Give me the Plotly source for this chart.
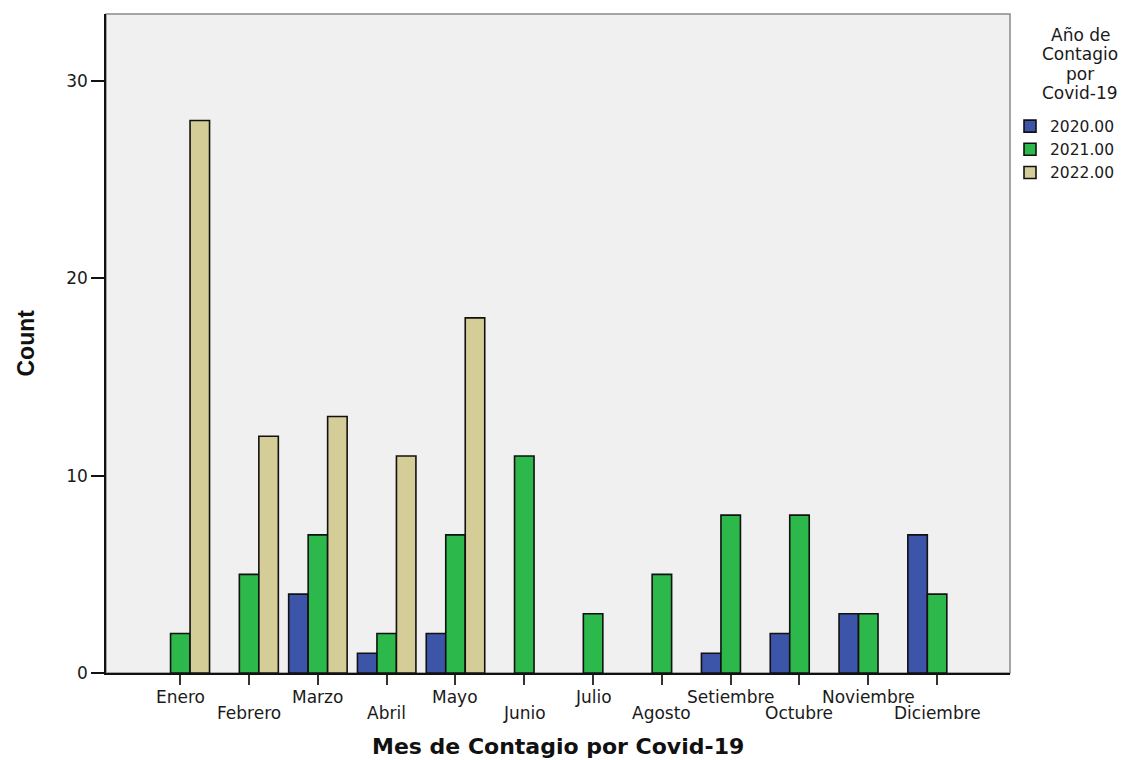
import plotly.graph_objects as go

months = ["Enero", "Febrero", "Marzo", "Abril", "Mayo", "Junio", "Julio",
          "Agosto", "Setiembre", "Octubre", "Noviembre", "Diciembre"]
series_names = ["2020.00", "2021.00", "2022.00"]
# None = no bar drawn for that month/year
counts_2020 = [None, None, 4, 1, 2, None, None, None, 1, 2, 3, 7]
counts_2021 = [2, 5, 7, 2, 7, 11, 3, 5, 8, 8, 3, 4]
counts_2022 = [28, 12, 13, 11, 18, None, None, None, None, None, None, None]
colors = ["#3C55A9", "#2DB84B", "#D4CD97"]
y_ticks = [0, 10, 20, 30]
legend_title_lines = ["Año de", "Contagio", "por", "Covid-19"]

FONT = "DejaVu Sans, Verdana, Arial, sans-serif"

fig = go.Figure()
for name, vals, col in zip(series_names, [counts_2020, counts_2021, counts_2022], colors):
    fig.add_trace(go.Bar(
        x=months, y=vals, name=name,
        marker=dict(color=col, line=dict(color="#111111", width=1.6)),
    ))

fig.update_layout(
    width=1140, height=760,
    margin=dict(l=106, r=130, t=14, b=87),
    paper_bgcolor="white", plot_bgcolor="#F0F0F0",
    barmode="group", bargap=0.15, bargroupgap=0,
    font=dict(family=FONT, size=16, color="#1a1a1a"),
    showlegend=True,
    legend=dict(
        x=1.0, xanchor="left", y=0.855, yanchor="top",
        font=dict(family=FONT, size=15.5, color="#1a1a1a"),
        tracegroupgap=0, bgcolor="rgba(0,0,0,0)",
    ),
)

fig.update_xaxes(
    type="category", categoryorder="array", categoryarray=months,
    range=[-1.08, 12.06],
    showticklabels=False, ticks="outside", ticklen=10, tickwidth=2, tickcolor="#333333",
    showline=True, linecolor="#111111", linewidth=1.5, showgrid=False, zeroline=False,
)
fig.update_yaxes(
    range=[0, 33.4], tickvals=y_ticks, ticktext=[str(v) for v in y_ticks],
    ticks="outside", ticklen=13, tickwidth=1.5, tickcolor="#111111",
    showline=True, linecolor="#111111", linewidth=1.5, showgrid=False, zeroline=False,
    tickfont=dict(family=FONT, size=17, color="#1a1a1a"),
)

# gray frame (top / right)
fig.add_shape(type="rect", xref="paper", yref="paper", x0=0, x1=1, y0=0, y1=1,
              line=dict(color="#8a8a8a", width=1.5), layer="below")

# month labels, staggered in two rows, with long ticks for the lower row
for i, m in enumerate(months):
    lower = (i % 2 == 1)
    fig.add_annotation(x=m, xref="x", y=0, yref="paper",
                       yshift=-40 if lower else -24, yanchor="middle",
                       text=m, showarrow=False,
                       font=dict(family=FONT, size=17, color="#1a1a1a"))
    if lower:
        fig.add_shape(type="line", xref="x", yref="y", x0=m, x1=m,
                      ysizemode="pixel", yanchor=0, y0=0, y1=-30,
                      line=dict(color="#333333", width=2))

# legend title (centered, one annotation per line for tight line spacing)
for k, line in enumerate(legend_title_lines):
    fig.add_annotation(text=line, xref="paper", yref="paper",
                       x=1.0, xshift=70, y=1.0, yshift=-21 - 19.3 * k,
                       xanchor="center", yanchor="middle", showarrow=False,
                       font=dict(family=FONT, size=17, color="#1a1a1a"))

# axis titles
fig.add_annotation(text="<b>Mes de Contagio por Covid-19</b>", xref="paper", yref="paper",
                   x=0.5, y=0, yshift=-73, yanchor="middle", showarrow=False,
                   font=dict(family=FONT, size=22, color="#111111"))
fig.add_annotation(text="<b>Count</b>", xref="paper", yref="paper",
                   x=0, xshift=-81, y=0.5, textangle=-90, showarrow=False,
                   xanchor="center", yanchor="middle",
                   font=dict(family="Liberation Sans Narrow, Arial Narrow, Liberation Sans, Arial", size=23, color="#111111"))

fig.write_html("out.html", config={"displayModeBar": False},
               post_script="document.body.style.margin='0';")
